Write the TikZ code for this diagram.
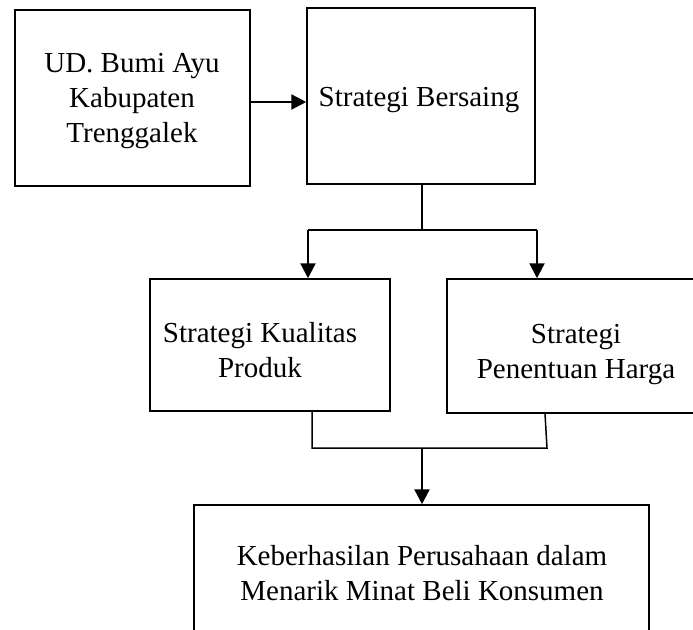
\documentclass[tikz,border=0pt]{standalone}
\usepackage{fontspec}
\setmainfont{Liberation Serif}
\usetikzlibrary{arrows.meta}
\begin{document}
\begin{tikzpicture}[x=1pt,y=-1pt,
  box/.style={draw, line width=1.5pt, inner sep=0pt},
  txt/.style={align=center, inner sep=0pt, font=\fontsize{29}{35}\selectfont},
  ln/.style={line width=1.5pt},
  arr/.style={line width=2.3pt, -{Triangle[length=15pt,width=15pt]}}]
\useasboundingbox (0,0) rectangle (693,629);
% boxes
\node[box, minimum width=235pt, minimum height=176pt] (ud) at (132.5,98) {};
\node[box, minimum width=228pt, minimum height=176pt] (sb) at (421,96) {};
\node[box, minimum width=240pt, minimum height=132pt] (sk) at (270,345) {};
\node[box, minimum width=258pt, minimum height=134pt] (sh) at (576,346) {};
\node[box, minimum width=455pt, minimum height=136pt] (kb) at (421.5,573) {};
% texts
\node[txt] (tud) at (132,101.5) {UD. Bumi Ayu\\Kabupaten\\Trenggalek};
\node[txt] (tsb) at (419,100) {Strategi Bersaing};
\node[txt] (tsk) at (260,350.5) {Strategi Kualitas\\Produk};
\node[txt] (tsh) at (576,355) {Strategi\\Penentuan Harga};
\node[txt] (tkb) at (422,573) {Keberhasilan Perusahaan dalam\\Menarik Minat Beli Konsumen};
% connector coordinates
\coordinate (ya) at (0,102);
\coordinate (f) at (422,230);
\coordinate (fl) at (308,230);
\coordinate (fr) at (537,230);
\coordinate (gl) at (312,448);
\coordinate (gr) at (547,448);
\coordinate (grt) at (545,0);
\coordinate (g) at (422,448);
% connectors
\draw[arr] (ud.east |- ya) -- (sb.west |- ya);
\draw[ln] (sb.south -| f) -- (f);
\draw[ln] (fl) -- (fr);
\draw[arr] (fl) -- (sk.north -| fl);
\draw[arr] (fr) -- (sh.north -| fr);
\draw[ln] (sk.south -| gl) -- (gl) -- (gr) -- (sh.south -| grt);
\draw[arr] (g) -- (kb.north -| g);
\end{tikzpicture}
\end{document}
